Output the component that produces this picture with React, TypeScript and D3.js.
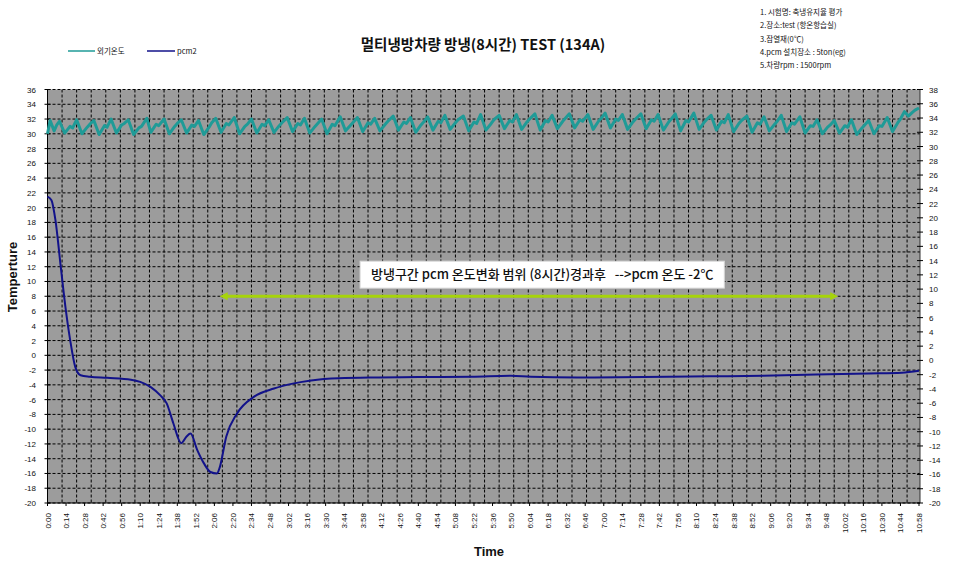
import React from "react";
import * as d3 from "d3";

const xLabels = ["0:00","0:14","0:28","0:42","0:56","1:10","1:24","1:38","1:52","2:06","2:20","2:34","2:48","3:02","3:16","3:30","3:44","3:58","4:12","4:26","4:40","4:54","5:08","5:22","5:36","5:50","6:04","6:18","6:32","6:46","7:00","7:14","7:28","7:42","7:56","8:10","8:24","8:38","8:52","9:06","9:20","9:34","9:48","10:02","10:16","10:30","10:44","10:58"];
const leftTicks = [36,34,32,30,28,26,24,22,20,18,16,14,12,10,8,6,4,2,0,-2,-4,-6,-8,-10,-12,-14,-16,-18,-20];
const rightTicks = [38,36,34,32,30,28,26,24,22,20,18,16,14,12,10,8,6,4,2,0,-2,-4,-6,-8,-10,-12,-14,-16,-18,-20];

// 외기온도 [minutes, °C]
const outsidePoints: [number, number][] = [
  [0,30.0],[2,31.8],[5,30.4],[7,31.2],[9,31.7],
  [13,30.1],[17,31.0],[19,30.8],[22,31.9],
  [26,30.0],[30,30.9],[32,31.3],[35,31.8],
  [39,29.9],[43,31.1],[45,30.9],[48,32.0],
  [52,30.1],[56,31.2],[58,31.4],[61,31.9],
  [65,29.9],[69,30.8],[71,31.0],[75,32.1],
  [78,30.2],[82,31.3],[84,31.1],[88,32.0],
  [92,30.0],[96,31.0],[98,31.4],[101,31.9],
  [105,30.1],[109,31.2],[111,31.0],[114,31.8],
  [118,29.9],[122,30.9],[124,31.5],[127,32.1],
  [131,30.2],[135,31.4],[137,31.2],[141,32.2],
  [145,30.0],[149,31.0],[151,31.3],[154,32.0],
  [158,30.1],[162,31.3],[164,31.1],[167,31.9],
  [171,30.2],[175,31.1],[177,31.5],[181,32.2],
  [185,30.3],[189,31.4],[191,31.2],[194,32.1],
  [198,30.1],[202,31.0],[204,31.4],[207,32.0],
  [211,30.0],[215,31.3],[217,31.1],[221,32.3],
  [225,30.4],[229,31.2],[231,31.6],[234,32.2],
  [238,30.3],[242,31.5],[244,31.3],[247,32.1],
  [251,30.4],[255,31.3],[257,31.7],[261,32.4],
  [265,30.5],[269,31.6],[271,31.4],[274,32.2],
  [278,30.2],[282,31.2],[284,31.6],[287,32.3],
  [291,30.5],[295,31.7],[297,31.5],[300,32.5],
  [304,30.6],[308,31.5],[310,31.9],[314,32.4],
  [318,30.4],[322,31.6],[324,31.4],[327,32.6],
  [331,30.5],[335,31.4],[337,31.9],[341,32.5],
  [345,30.7],[349,31.8],[351,31.6],[354,32.6],
  [358,30.6],[362,31.6],[364,32.0],[368,32.7],
  [372,30.5],[376,31.8],[378,31.6],[381,32.5],
  [385,30.7],[389,31.7],[391,32.1],[394,32.7],
  [398,30.8],[402,31.9],[404,31.7],[408,32.6],
  [412,30.6],[416,31.7],[418,32.1],[421,32.8],
  [425,30.8],[429,32.0],[431,31.8],[434,32.6],
  [438,30.6],[442,31.6],[444,32.0],[448,32.7],
  [452,30.7],[456,31.9],[458,31.7],[461,32.6],
  [465,30.5],[469,31.6],[471,32.0],[474,32.7],
  [478,30.4],[482,31.8],[484,31.6],[488,32.8],
  [492,30.6],[496,31.6],[498,32.0],[501,32.5],
  [505,30.5],[509,31.7],[511,31.5],[514,32.6],
  [518,30.3],[522,31.4],[524,31.8],[528,32.4],
  [532,30.2],[536,31.5],[538,31.3],[541,32.3],
  [545,30.4],[549,31.3],[551,31.7],[554,32.5],
  [558,30.3],[562,31.5],[564,31.3],[568,32.3],
  [572,30.1],[576,31.1],[578,31.0],[581,31.9],
  [585,30.0],[589,30.9],[591,31.2],[594,31.8],
  [598,30.1],[602,31.1],[604,30.9],[607,31.9],
  [611,29.9],[615,30.8],[617,31.2],[620,31.8],
  [624,30.0],[628,31.1],[630,31.0],[634,32.2],
  [638,30.3],[642,31.5],[644,32.0],[647,33.0],
  [650,32.4],[653,32.9],[655,33.2],[658,33.5]
];

// pcm2 (minutes, °C)
const pcmMin = [0,3,6,10,13.5,17,21,25,32,45,63,70,78,85,90,95,101,105,108,113,118,123,128,130,135,143,156,171,186,199,220,250,280,320,350,365,400,450,500,540,580,620,645,658];
const pcmVal = [21.5,21.0,18.3,12.0,6.6,2.2,-1.6,-2.7,-2.9,-3.05,-3.3,-3.6,-4.3,-5.4,-6.5,-9.2,-11.9,-11.0,-10.6,-12.8,-14.6,-15.8,-16.0,-15.2,-11.0,-7.9,-5.6,-4.5,-3.8,-3.4,-3.1,-3.0,-2.95,-2.9,-2.75,-2.9,-3.0,-2.95,-2.85,-2.75,-2.6,-2.45,-2.35,-2.1];

const notes = ["1. 시험명: 축냉유지율 평가","2.장소:test (항온항습실)","3.잠열재(0℃)","4.pcm 설치장소 : 5ton(eg)","5.차량rpm : 1500rpm"];
const seriesNames = ["외기온도","pcm2"];
const annotationText = "방냉구간 pcm 온도변화 범위 (8시간)경과후   -->pcm 온도 -2℃";
const boxMinutes = [236, 511];
const boxValues = [12.75, 9.1];
const arrowRange = [130, 597];
const arrowLevel = 8;

const toMin = (s: string) => { const [h, m] = s.split(":").map(Number); return h * 60 + m; };

export default function App() {
  const W = 955, H = 566;
  const pl = 47.5, pr = 920, pt = 89.5, pb = 503;
  const x = d3.scaleLinear().domain([0, 658]).range([pl, 919]);
  const yL = d3.scaleLinear().domain([-20, 36]).range([pb, pt]);
  const yR = d3.scaleLinear().domain([-20, 38]).range([pb, pt]);
  const line = d3.line<[number, number]>().x(d => x(d[0])).y(d => yL(d[1]));
  const pcm: [number, number][] = pcmMin.map((m, i) => [m, pcmVal[i]]);
  const pcmLine = d3.line<[number, number]>().x(d => x(d[0])).y(d => yL(d[1])).curve(d3.curveMonotoneX);
  const vGrid = d3.range(11, 658, 11);
  const tickFont = "Liberation Sans, Arial, sans-serif";
  const kr = "'Noto Sans CJK KR', sans-serif";
  const teal = "#1f9b97";
  const navy = "#12128a";
  const green = "#a6d40a";
  const ax1 = x(arrowRange[0]), ax2 = x(arrowRange[1]), ay = yL(arrowLevel);
  const bx1 = x(boxMinutes[0]), bx2 = x(boxMinutes[1]);
  const by1 = yL(boxValues[0]), by2 = yL(boxValues[1]);
  return (
    <svg width={W} height={H} style={{ position: "absolute", left: 0, top: 0, background: "#fff" }}>
      <text x={483} y={50} textAnchor="middle" fontFamily={kr} fontWeight={700} fontSize={14.5} fill="#111">멀티냉방차량 방냉(8시간) TEST (134A)</text>
      {/* legend */}
      <line x1={68} x2={95} y1={51} y2={51} stroke={teal} strokeWidth={1.5} />
      <text x={97} y={54} fontFamily={kr} fontSize={7.5} fill="#111">{seriesNames[0]}</text>
      <line x1={147} x2={175} y1={51} y2={51} stroke={navy} strokeWidth={1.5} />
      <text x={177} y={54} fontFamily={kr} fontSize={7.5} fill="#111">{seriesNames[1]}</text>
      {notes.map((n, i) => (
        <text key={i} x={760} y={15 + i * 13.3} fontFamily={kr} fontSize={7.5} fill="#111">{n}</text>
      ))}
      {/* plot area */}
      <rect x={pl} y={pt} width={pr - pl} height={pb - pt} fill="#9c9c9c" />
      {leftTicks.map(t => (
        <line key={"h" + t} x1={pl} x2={pr} y1={yL(t)} y2={yL(t)} stroke="#000" strokeWidth={1} strokeDasharray="3,2" />
      ))}
      {vGrid.map(m => (
        <line key={"v" + m} x1={x(m)} x2={x(m)} y1={pt} y2={pb} stroke="#000" strokeWidth={1} strokeDasharray="3,2" />
      ))}
      <line x1={pl} x2={pl} y1={pt} y2={pb} stroke="#000" />
      <line x1={pr} x2={pr} y1={pt} y2={pb} stroke="#333" />
      <line x1={pl} x2={pr} y1={pb} y2={pb} stroke="#000" />
      {leftTicks.map(t => (
        <g key={"l" + t}>
          <line x1={pl - 3} x2={pl + 3} y1={yL(t)} y2={yL(t)} stroke="#000" />
          <text x={36} y={yL(t) + 3} textAnchor="end" fontFamily={tickFont} fontSize={8} fill="#111">{t}</text>
        </g>
      ))}
      {rightTicks.map(t => (
        <g key={"r" + t}>
          <line x1={pr - 3} x2={pr + 3} y1={yR(t)} y2={yR(t)} stroke="#000" />
          <text x={929} y={yR(t) + 3} textAnchor="start" fontFamily={tickFont} fontSize={8} fill="#111">{t}</text>
        </g>
      ))}
      {xLabels.map(l => {
        const px = x(toMin(l));
        return (
          <g key={"x" + l}>
            <line x1={px} x2={px} y1={pb} y2={pb + 3} stroke="#000" />
            <text transform={`translate(${px + 3},${513}) rotate(-90)`} textAnchor="end" fontFamily={tickFont} fontSize={8} fill="#111">{l}</text>
          </g>
        );
      })}
      {/* series */}
      <path d={line(outsidePoints) || ""} fill="none" stroke={teal} strokeWidth={3} strokeLinejoin="round" />
      <path d={pcmLine(pcm) || ""} fill="none" stroke={navy} strokeWidth={2} />
      {/* annotation */}
      <rect x={bx1} y={by1} width={bx2 - bx1} height={by2 - by1} fill="#fff" stroke="#d8d8d8" />
      <text x={(bx1 + bx2) / 2} y={(by1 + by2) / 2 + 4.5} textAnchor="middle" fontFamily={kr} fontSize={13} fontWeight={500} fill="#111" style={{ whiteSpace: "pre" }}>{annotationText}</text>
      <line x1={ax1 + 6} x2={ax2 - 6} y1={ay} y2={ay} stroke={green} strokeWidth={3} />
      <path d={`M${ax1},${ay} L${ax1 + 8},${ay - 4} L${ax1 + 8},${ay + 4} Z`} fill={green} />
      <path d={`M${ax2},${ay} L${ax2 - 8},${ay - 4} L${ax2 - 8},${ay + 4} Z`} fill={green} />
      <text x={489} y={556} textAnchor="middle" fontFamily="Liberation Sans, Arial, sans-serif" fontWeight={700} fontSize={13} fill="#111">Time</text>
      <text transform={`translate(17,277) rotate(-90)`} textAnchor="middle" fontFamily="Liberation Sans, Arial, sans-serif" fontWeight={700} fontSize={13} fill="#111">Temperture</text>
    </svg>
  );
}
